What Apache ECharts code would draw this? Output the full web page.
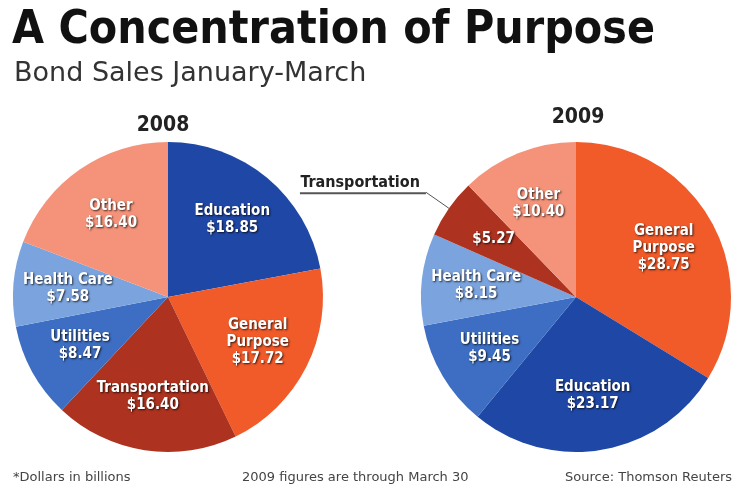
<!DOCTYPE html>
<html>
<head>
<meta charset="utf-8">
<title>A Concentration of Purpose</title>
<script src="https://cdn.jsdelivr.net/npm/echarts@6/dist/echarts.min.js"></script>
<style>
  html, body { margin: 0; padding: 0; background: #fff; }
  #chart { width: 740px; height: 497px; }
</style>
</head>
<body>
<div id="chart"></div>
<script>
// bond sales by purpose, $ billions
const sectors2008 = ['Education', 'General Purpose', 'Transportation', 'Utilities', 'Health Care', 'Other'];
const sales2008 = [18.85, 17.72, 16.40, 8.47, 7.58, 16.40];
const sectors2009 = ['General Purpose', 'Education', 'Utilities', 'Health Care', 'Transportation', 'Other'];
const sales2009 = [28.75, 23.17, 9.45, 8.15, 5.27, 10.40];

const sectorColors = {
  'Education': '#1f47a5',
  'General Purpose': '#f15a29',
  'Transportation': '#ad321f',
  'Utilities': '#3d6ec3',
  'Health Care': '#7ba4df',
  'Other': '#f5937a'
};
const shortNames = { 'General Purpose': 'General\nPurpose' };

const narrow = "'DejaVu Sans Condensed', 'Liberation Sans Narrow', sans-serif";
const plain = "'DejaVu Sans', sans-serif";

function toData(names, values) {
  return names.map((n, i) => ({ name: n, value: values[i], itemStyle: { color: sectorColors[n] } }));
}

const insideLabel = {
  show: true,
  position: 'inside',
  color: '#fff',
  fontFamily: narrow,
  fontWeight: 'bold',
  fontSize: 15,
  lineHeight: 17,
  textShadowColor: 'rgba(0,0,0,0.75)',
  textShadowBlur: 2,
  textShadowOffsetX: 1,
  textShadowOffsetY: 1,
  formatter: p => (p.name === 'Transportation' && p.seriesId === 'lab2009')
    ? '$' + p.value.toFixed(2)
    : (shortNames[p.name] || p.name) + '\n$' + p.value.toFixed(2)
};

function shapeSeries(id, center, names, values) {
  return {
    id: id,
    type: 'pie',
    center: center,
    radius: [0, 155],
    startAngle: 90,
    clockwise: true,
    silent: true,
    label: { show: false },
    labelLine: { show: false },
    emphasis: { disabled: true },
    data: toData(names, values)
  };
}

function labelSeries(id, center, names, values) {
  return {
    id: id,
    type: 'pie',
    center: center,
    radius: [40, 155],
    startAngle: 90,
    clockwise: true,
    silent: true,
    itemStyle: { color: 'transparent' },
    label: insideLabel,
    labelLine: { show: false },
    emphasis: { disabled: true },
    data: names.map((n, i) => ({ name: n, value: values[i] }))
  };
}

const shapes2009 = shapeSeries('pie2009', [576, 297], sectors2009, sales2009);
// callout for the small 2009 transportation slice
shapes2009.data.forEach(d => {
  if (d.name === 'Transportation') {
    d.label = {
      show: true,
      position: 'outside',
      distanceToLabelLine: 0,
      formatter: '{t|Transportation}\n{u| }',
      padding: [0, 0, 16, 0],
      rich: {
        t: { fontFamily: narrow, fontWeight: 'bold', fontSize: 16, color: '#222', lineHeight: 18, align: 'right', padding: [0, 6, 0, 0] },
        u: { width: 126, height: 2, lineHeight: 2, backgroundColor: '#555' }
      }
    };
    d.labelLine = { show: true, length: 28, length2: 0, lineStyle: { color: '#555', width: 1 } };
  }
});

const chart = echarts.init(document.getElementById('chart'));
chart.setOption({
  backgroundColor: '#fff',
  animation: false,
  title: [
    { text: 'A Concentration of Purpose', left: 12, top: 8, padding: 0,
      textStyle: { fontFamily: narrow, fontWeight: 'bold', fontSize: 46, color: '#111' } },
    { text: 'Bond Sales January-March', left: 14, top: 60, padding: 0,
      textStyle: { fontFamily: plain, fontWeight: 'normal', fontSize: 27, color: '#333' } },
    { text: '2008', left: 163, top: 115, padding: 0, textAlign: 'center',
      textStyle: { fontFamily: narrow, fontWeight: 'bold', fontSize: 21, color: '#222' } },
    { text: '2009', left: 578, top: 107, padding: 0, textAlign: 'center',
      textStyle: { fontFamily: narrow, fontWeight: 'bold', fontSize: 21, color: '#222' } },
    { text: '*Dollars in billions', left: 13, top: 471, padding: 0,
      textStyle: { fontFamily: plain, fontWeight: 'normal', fontSize: 13, color: '#444' } },
    { text: '2009 figures are through March 30', left: 242, top: 471, padding: 0,
      textStyle: { fontFamily: plain, fontWeight: 'normal', fontSize: 13, color: '#444' } },
    { text: 'Source: Thomson Reuters', right: 8, top: 471, padding: 0,
      textStyle: { fontFamily: plain, fontWeight: 'normal', fontSize: 13, color: '#444' } }
  ],
  series: [
    shapeSeries('pie2008', [168, 297], sectors2008, sales2008),
    labelSeries('lab2008', [168, 297], sectors2008, sales2008),
    shapes2009,
    labelSeries('lab2009', [576, 297], sectors2009, sales2009)
  ]
});
</script>
</body>
</html>
